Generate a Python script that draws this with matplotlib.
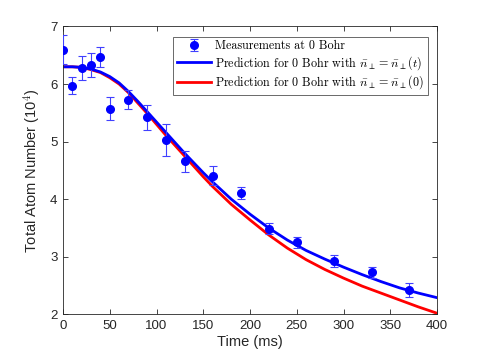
import numpy as np
import matplotlib
matplotlib.use("Agg")
import matplotlib.pyplot as plt

# ── Data ──────────────────────────────────────────────────────────────────────
t_meas   = [0, 10, 20, 30, 40, 50, 70, 90, 110, 130, 160, 190, 220, 250, 290, 330, 370]
n_meas   = [6.60, 5.97, 6.28, 6.33, 6.47, 5.57, 5.73, 5.42, 5.03, 4.66, 4.41, 4.11,
            3.49, 3.25, 2.93, 2.73, 2.42]
n_err    = [0.25, 0.15, 0.21, 0.21, 0.17, 0.20, 0.16, 0.21, 0.28, 0.18, 0.16, 0.10,
            0.10, 0.10, 0.10, 0.09, 0.12]

t_pred   = [0, 10, 20, 30, 40, 50, 60, 70, 80, 90, 100, 110, 120, 130, 140, 150, 160,
            180, 200, 220, 240, 260, 280, 300, 320, 340, 360, 380, 400]
n_pred_t = [6.30, 6.30, 6.29, 6.26, 6.21, 6.13, 6.02, 5.87, 5.70, 5.52, 5.34, 5.16,
            4.98, 4.80, 4.63, 4.46, 4.30, 4.00, 3.74, 3.50, 3.29, 3.11, 2.96, 2.82,
            2.69, 2.57, 2.46, 2.37, 2.29]
n_pred_0 = [6.30, 6.30, 6.29, 6.25, 6.20, 6.11, 6.00, 5.85, 5.67, 5.49, 5.30, 5.11,
            4.93, 4.75, 4.57, 4.39, 4.22, 3.91, 3.64, 3.38, 3.15, 2.95, 2.78, 2.63,
            2.49, 2.37, 2.25, 2.13, 2.02]

labels = ["Measurements at 0 Bohr",
          r"Prediction for 0 Bohr with $\bar{n}_\perp = \bar{n}_\perp(t)$",
          r"Prediction for 0 Bohr with $\bar{n}_\perp = \bar{n}_\perp(0)$"]

# ── Figure ────────────────────────────────────────────────────────────────────
plt.rcParams['mathtext.fontset'] = 'cm'
plt.rcParams['font.family'] = ['Liberation Sans', 'DejaVu Sans']
ax_col = '#262626'

fig = plt.figure(figsize=(4.85, 3.63), dpi=100)
ax = fig.add_axes([0.130, 0.134, 0.771, 0.793])

eb = ax.errorbar(t_meas, n_meas, yerr=n_err, fmt='o', color='blue', ms=5.5,
                 ecolor=(0.25, 0.25, 1.0), elinewidth=0.8, capsize=3, capthick=0.8,
                 zorder=3)
l1, = ax.plot(t_pred, n_pred_t, color='blue', lw=2, zorder=2)
l0, = ax.plot(t_pred, n_pred_0, color='red', lw=2, zorder=1)

ax.set_xlim(0, 400); ax.set_ylim(2, 7)
ax.set_xticks(np.arange(0, 401, 50)); ax.set_yticks(np.arange(2, 8, 1))
ax.tick_params(direction='in', length=3.5, width=0.6, top=True, right=True,
               labelsize=9.5, colors=ax_col, pad=4)
for s in ax.spines.values():
    s.set_color(ax_col); s.set_linewidth(0.6)

ax.set_xlabel('Time (ms)', fontsize=10.5, color=ax_col, labelpad=2)
ax.set_ylabel(r'Total Atom Number (10$^{\mathsf{4}}$)', fontsize=10.5, color=ax_col, labelpad=6)

leg = ax.legend([eb, l1, l0], labels, loc='upper right', bbox_to_anchor=(0.976, 0.965),
                prop={'family': 'cmr10', 'size': 8.7}, frameon=True, fancybox=False,
                edgecolor=ax_col, borderpad=0.3, labelspacing=0.15,
                handlelength=2.8, handletextpad=0.4, borderaxespad=0.0)
leg.get_frame().set_linewidth(0.6)

fig.savefig('out.png', dpi=100, facecolor='white')
